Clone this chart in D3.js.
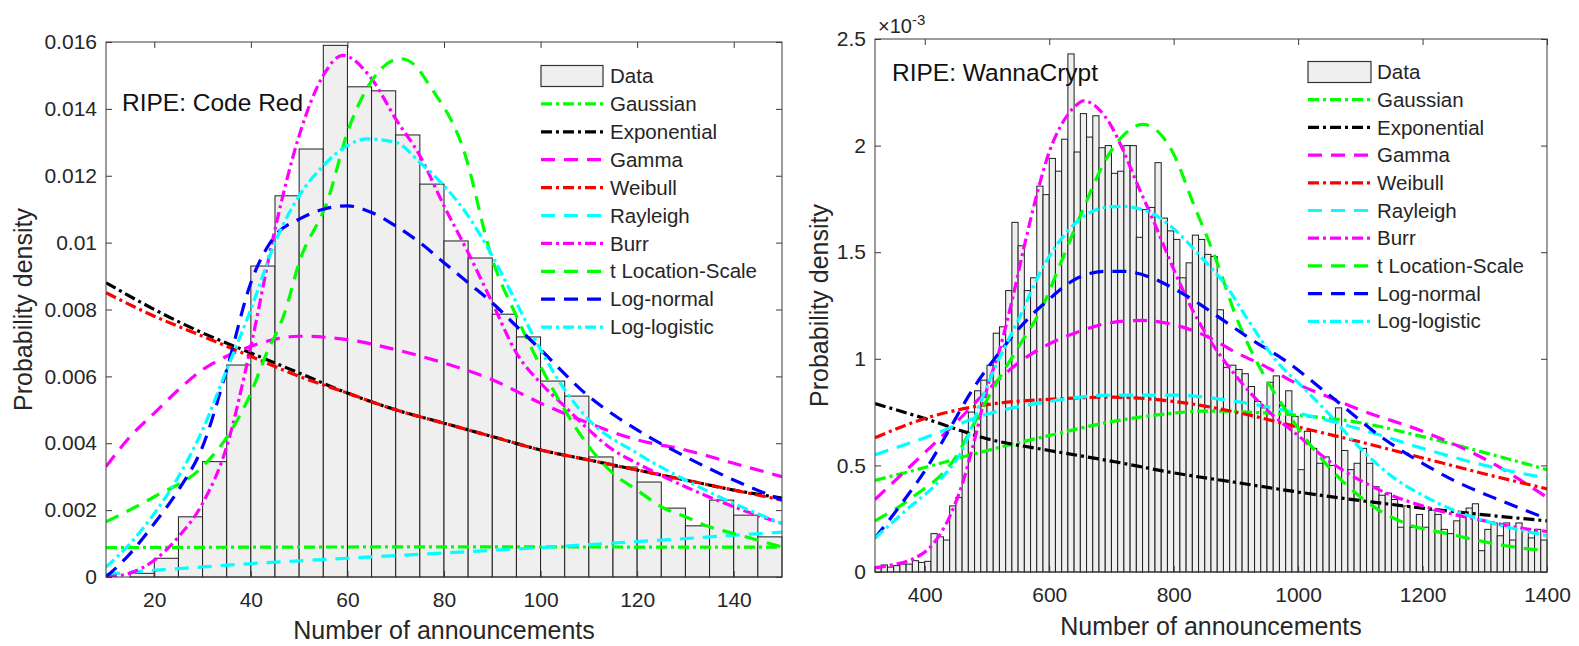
<!DOCTYPE html>
<html>
<head>
<meta charset="utf-8">
<script src="https://cdn.jsdelivr.net/npm/d3@7"></script>
<style>
body { margin: 0; background: #fff; }
text { font-family: "Liberation Sans", Arial, sans-serif; }
</style>
</head>
<body>
<script>
// ---- fit names and looks (same order in both panels) ----
const fitNames = ["Gaussian", "Exponential", "Gamma", "Weibull", "Rayleigh", "Burr", "t Location-Scale", "Log-normal", "Log-logistic"];
const fitColors = ["#00ff00", "#000000", "#ff00ff", "#ff0000", "#00ffff", "#ff00ff", "#00ff00", "#0000ff", "#00ffff"];
const fitDash = ["dashdot", "dashdot", "dashed", "dashdot", "dashed", "dashdot", "dashed", "dashed", "dashdot"];

// ---- RIPE: Code Red ----
const crBinStart = [15, 20, 25, 30, 35, 40, 45, 50, 55, 60, 65, 70, 75, 80, 85, 90, 95, 100, 105, 110, 115, 120, 125, 130, 135, 140, 145];
const crBinDensity = [0.00011, 0.00056, 0.0018, 0.00345, 0.00634, 0.0093, 0.0114, 0.0128, 0.0159, 0.01466, 0.01454, 0.01322, 0.01175, 0.01005, 0.00954, 0.00786, 0.00718, 0.00586, 0.00541, 0.00359, 0.00329, 0.00284, 0.00206, 0.00153, 0.0023, 0.00185, 0.0012];
const crBinWidth = 5;
const crXTicks = [20, 40, 60, 80, 100, 120, 140];
const crYTicks = [0, 0.002, 0.004, 0.006, 0.008, 0.01, 0.012, 0.014, 0.016];

const crGaussian = [[10, 0.00088], [80, 0.0009], [150, 0.00089]];
const crExponential = [[10, 0.0088], [20, 0.008], [30, 0.0073], [40, 0.0067], [50, 0.0061], [60, 0.0055], [70, 0.005], [80, 0.0046], [90, 0.0042], [100, 0.0038], [110, 0.0035], [120, 0.0032], [130, 0.0029], [140, 0.0026], [150, 0.00236]];
const crGamma = [[10, 0.0033], [15, 0.0042], [20, 0.0049], [25, 0.0056], [30, 0.0062], [35, 0.0066], [40, 0.0069], [50, 0.0072], [60, 0.0071], [70, 0.0068], [80, 0.0064], [90, 0.0059], [100, 0.0052], [110, 0.0046], [120, 0.0041], [130, 0.0038], [140, 0.0034], [150, 0.003]];
const crWeibull = [[10, 0.0085], [20, 0.0078], [30, 0.0072], [40, 0.0066], [50, 0.006], [60, 0.0055], [70, 0.005], [80, 0.0046], [90, 0.0042], [100, 0.0038], [110, 0.0035], [120, 0.0032], [130, 0.0029], [140, 0.0026], [150, 0.0023]];
const crRayleigh = [[10, 0.00008], [20, 0.0002], [30, 0.0003], [40, 0.0004], [50, 0.00048], [60, 0.00056], [70, 0.00064], [80, 0.00072], [90, 0.0008], [100, 0.00088], [110, 0.00097], [120, 0.00106], [130, 0.00115], [140, 0.00125], [150, 0.00134]];
const crBurr = [[10, 0], [15, 0.00012], [20, 0.0005], [25, 0.0012], [30, 0.0022], [35, 0.0039], [40, 0.0069], [45, 0.0104], [50, 0.0132], [55, 0.015], [59, 0.0156], [65, 0.0149], [70, 0.0137], [75, 0.0126], [80, 0.0111], [85, 0.0097], [90, 0.0082], [95, 0.0067], [100, 0.0058], [105, 0.0051], [110, 0.0044], [115, 0.0038], [120, 0.0034], [130, 0.0027], [140, 0.0021], [150, 0.0016]];
const crTLocScale = [[10, 0.00165], [20, 0.0024], [30, 0.0033], [36, 0.0044], [40, 0.0055], [43, 0.0066], [47, 0.0079], [50, 0.0094], [56, 0.0113], [60, 0.0133], [64, 0.0146], [67, 0.0152], [71, 0.0155], [74, 0.0153], [77, 0.0147], [84, 0.0128], [90, 0.0095], [95, 0.0078], [100, 0.0063], [105, 0.005], [110, 0.0039], [115, 0.0031], [120, 0.0026], [125, 0.0021], [130, 0.0018], [135, 0.0015], [140, 0.0013], [150, 0.0009]];
const crLogNormal = [[10, 0], [15, 0.0007], [20, 0.0016], [25, 0.0026], [30, 0.0039], [35, 0.0062], [40, 0.0088], [45, 0.0102], [50, 0.0107], [55, 0.011], [60, 0.0111], [65, 0.0109], [70, 0.0105], [75, 0.01], [80, 0.0094], [85, 0.0088], [90, 0.0082], [95, 0.0075], [100, 0.0068], [110, 0.0054], [120, 0.0044], [130, 0.0036], [140, 0.0029], [150, 0.0023]];
const crLogLogistic = [[10, 0.0003], [15, 0.001], [20, 0.0019], [25, 0.003], [30, 0.0044], [35, 0.0062], [40, 0.008], [45, 0.01], [50, 0.0114], [55, 0.0123], [60, 0.0129], [64, 0.0131], [70, 0.013], [75, 0.0124], [80, 0.0117], [85, 0.0108], [90, 0.0096], [95, 0.0082], [100, 0.0068], [105, 0.0056], [110, 0.0047], [120, 0.0037], [130, 0.0029], [140, 0.0022], [150, 0.0016]];

// ---- RIPE: WannaCrypt (density in units of 1e-3) ----
const wcBinStart = [320, 330, 340, 350, 360, 370, 380, 390, 400, 410, 420, 430, 440, 450, 460, 470, 480, 490, 500, 510, 520, 530, 540, 550, 560, 570, 580, 590, 600, 610, 620, 630, 640, 650, 660, 670, 680, 690, 700, 710, 720, 730, 740, 750, 760, 770, 780, 790, 800, 810, 820, 830, 840, 850, 860, 870, 880, 890, 900, 910, 920, 930, 940, 950, 960, 970, 980, 990, 1000, 1010, 1020, 1030, 1040, 1050, 1060, 1070, 1080, 1090, 1100, 1110, 1120, 1130, 1140, 1150, 1160, 1170, 1180, 1190, 1200, 1210, 1220, 1230, 1240, 1250, 1260, 1270, 1280, 1290, 1300, 1310, 1320, 1330, 1340, 1350, 1360, 1370, 1380, 1390];
const wcBinDensity = [0.025, 0.033, 0.023, 0.03, 0.037, 0.037, 0.053, 0.045, 0.05, 0.18, 0.165, 0.15, 0.31, 0.35, 0.66, 0.75, 0.85, 0.9, 0.97, 1.12, 1.15, 1.32, 1.64, 1.53, 1.32, 1.38, 1.81, 1.77, 1.94, 1.88, 2.03, 2.43, 1.97, 2.15, 2.04, 2.14, 1.99, 2.0, 1.87, 1.88, 2.0, 2.0, 1.57, 1.7, 1.71, 1.92, 1.66, 1.6, 1.56, 1.38, 1.45, 1.58, 1.56, 1.49, 1.48, 1.23, 0.96, 0.97, 0.95, 0.93, 0.87, 0.8, 0.77, 0.89, 0.92, 0.78, 0.85, 0.73, 0.48, 0.66, 0.58, 0.51, 0.54, 0.5, 0.77, 0.57, 0.48, 0.51, 0.58, 0.51, 0.4, 0.36, 0.37, 0.34, 0.21, 0.31, 0.21, 0.27, 0.21, 0.29, 0.27, 0.2, 0.18, 0.24, 0.28, 0.3, 0.32, 0.1, 0.2, 0.23, 0.17, 0.23, 0.15, 0.23, 0.2, 0.16, 0.2, 0.15];
const wcBinWidth = 10;
const wcXTicks = [400, 600, 800, 1000, 1200, 1400];
const wcYTicks = [0, 0.5, 1, 1.5, 2, 2.5];

const wcGaussian = [[320, 0.43], [400, 0.49], [500, 0.57], [600, 0.64], [700, 0.705], [800, 0.745], [850, 0.755], [900, 0.752], [1000, 0.735], [1100, 0.7], [1200, 0.635], [1300, 0.56], [1400, 0.48]];
const wcExponential = [[320, 0.79], [400, 0.72], [500, 0.625], [600, 0.57], [700, 0.52], [800, 0.465], [900, 0.42], [1000, 0.375], [1100, 0.335], [1200, 0.3], [1300, 0.268], [1400, 0.24]];
const wcGamma = [[320, 0.34], [360, 0.45], [400, 0.56], [450, 0.7], [500, 0.85], [550, 0.98], [600, 1.07], [650, 1.13], [700, 1.17], [750, 1.18], [800, 1.16], [850, 1.11], [900, 1.03], [950, 0.96], [1000, 0.88], [1050, 0.82], [1100, 0.76], [1200, 0.66], [1300, 0.53], [1400, 0.35]];
const wcWeibull = [[320, 0.63], [400, 0.72], [500, 0.785], [600, 0.81], [700, 0.82], [800, 0.8], [900, 0.75], [1000, 0.68], [1100, 0.61], [1200, 0.535], [1300, 0.46], [1400, 0.39]];
const wcRayleigh = [[320, 0.55], [400, 0.63], [500, 0.74], [600, 0.8], [700, 0.83], [800, 0.83], [900, 0.8], [1000, 0.745], [1100, 0.67], [1200, 0.58], [1300, 0.5], [1400, 0.44]];
const wcBurr = [[320, 0.02], [350, 0.035], [380, 0.06], [410, 0.12], [440, 0.26], [460, 0.41], [480, 0.62], [500, 0.86], [520, 1.04], [540, 1.27], [560, 1.53], [580, 1.77], [600, 1.97], [620, 2.1], [640, 2.18], [655, 2.21], [680, 2.17], [700, 2.09], [720, 1.97], [740, 1.83], [770, 1.63], [800, 1.42], [830, 1.23], [860, 1.08], [900, 0.92], [950, 0.76], [1000, 0.64], [1050, 0.52], [1100, 0.43], [1150, 0.36], [1200, 0.31], [1250, 0.27], [1300, 0.24], [1350, 0.21], [1400, 0.19]];
const wcTLocScale = [[320, 0.24], [380, 0.35], [450, 0.54], [480, 0.7], [510, 0.86], [545, 1.03], [590, 1.25], [620, 1.46], [660, 1.74], [690, 1.93], [720, 2.05], [750, 2.1], [780, 2.05], [800, 1.96], [830, 1.74], [870, 1.45], [900, 1.2], [940, 0.95], [980, 0.76], [1035, 0.54], [1070, 0.43], [1130, 0.29], [1180, 0.22], [1240, 0.18], [1340, 0.12], [1400, 0.1]];
const wcLogNormal = [[320, 0.16], [360, 0.31], [410, 0.52], [430, 0.62], [480, 0.87], [520, 1.03], [560, 1.17], [600, 1.28], [640, 1.37], [690, 1.41], [720, 1.41], [760, 1.385], [800, 1.33], [840, 1.26], [880, 1.18], [920, 1.1], [980, 0.99], [1050, 0.83], [1140, 0.62], [1200, 0.51], [1250, 0.43], [1330, 0.33], [1400, 0.25]];
const wcLogLogistic = [[320, 0.16], [370, 0.29], [430, 0.45], [465, 0.6], [485, 0.76], [510, 0.94], [550, 1.18], [590, 1.43], [630, 1.6], [690, 1.71], [715, 1.715], [760, 1.69], [800, 1.61], [840, 1.49], [885, 1.34], [920, 1.18], [965, 0.99], [1010, 0.86], [1050, 0.74], [1100, 0.58], [1150, 0.45], [1200, 0.36], [1250, 0.29], [1300, 0.24], [1400, 0.17]];

const dashes = { dashed: "14,9", dashdot: "11,4,3,4" };
const textColor = "#262626";
const lineW = 3.2;

const svg = d3.select("body").append("svg")
  .attr("width", 1579)
  .attr("height", 646)
  .attr("xmlns", "http://www.w3.org/2000/svg");

function drawPanel(p) {
  const x = d3.scaleLinear().domain(p.xDomain).range([p.left, p.right]);
  const y = d3.scaleLinear().domain(p.yDomain).range([p.bottom, p.top]);
  const fmt = d3.format("~g");

  svg.append("clipPath").attr("id", p.id + "-clip")
    .append("rect")
    .attr("x", p.left).attr("y", p.top)
    .attr("width", p.right - p.left).attr("height", p.bottom - p.top);

  // histogram
  svg.append("g").selectAll("rect")
    .data(p.binStart)
    .join("rect")
    .attr("x", d => x(d))
    .attr("width", d => x(d + p.binWidth) - x(d))
    .attr("y", (d, i) => y(p.binDensity[i]))
    .attr("height", (d, i) => y(0) - y(p.binDensity[i]))
    .attr("fill", "#efefef")
    .attr("stroke", "#1e1e1e")
    .attr("stroke-width", 1);

  // fitted curves
  const line = d3.line().x(d => x(d[0])).y(d => y(d[1])).curve(d3.curveMonotoneX);
  svg.append("g").attr("clip-path", "url(#" + p.id + "-clip)")
    .selectAll("path")
    .data(p.fits)
    .join("path")
    .attr("d", d => line(d))
    .attr("fill", "none")
    .attr("stroke", (d, i) => fitColors[i])
    .attr("stroke-width", lineW)
    .attr("stroke-dasharray", (d, i) => dashes[fitDash[i]]);

  // axes, ticks inward on all four sides
  const axes = [
    { a: d3.axisBottom(x).tickValues(p.xTicks).tickFormat(fmt).tickPadding(15), t: "translate(0," + p.bottom + ")" },
    { a: d3.axisTop(x).tickValues(p.xTicks).tickFormat(""), t: "translate(0," + p.top + ")" },
    { a: d3.axisLeft(y).tickValues(p.yTicks).tickFormat(fmt).tickPadding(9), t: "translate(" + p.left + ",0)" },
    { a: d3.axisRight(y).tickValues(p.yTicks).tickFormat(""), t: "translate(" + p.right + ",0)" }
  ];
  axes.forEach(ax => {
    const g = svg.append("g")
      .attr("transform", ax.t)
      .attr("color", "#3a3a3a")
      .call(ax.a.tickSizeInner(-6).tickSizeOuter(0));
    g.select(".domain").remove();
    g.selectAll("text")
      .attr("font-size", 21)
      .attr("font-family", "'Liberation Sans', Arial, sans-serif")
      .attr("fill", textColor);
  });

  svg.append("rect")
    .attr("x", p.left).attr("y", p.top)
    .attr("width", p.right - p.left).attr("height", p.bottom - p.top)
    .attr("fill", "none").attr("stroke", "#3a3a3a").attr("stroke-width", 1);

  // axis labels
  svg.append("text")
    .attr("x", (p.left + p.right) / 2).attr("y", p.xLabelY)
    .attr("text-anchor", "middle").attr("font-size", 25).attr("fill", textColor)
    .text("Number of announcements");
  svg.append("text")
    .attr("transform", "translate(" + p.yLabelX + "," + (p.top + p.bottom) / 2 + ") rotate(-90)")
    .attr("text-anchor", "middle").attr("font-size", 25).attr("fill", textColor)
    .text("Probability density");

  // panel title
  svg.append("text")
    .attr("x", p.titleX).attr("y", p.titleY)
    .attr("font-size", 24.5).attr("fill", "#111")
    .text(p.title);

  // legend
  const lg = svg.append("g");
  lg.append("rect")
    .attr("x", p.legX0).attr("y", p.legY - 10.5)
    .attr("width", p.legX1 - p.legX0).attr("height", 21)
    .attr("fill", "#efefef").attr("stroke", "#333").attr("stroke-width", 1.2);
  lg.append("text")
    .attr("x", p.legTextX).attr("y", p.legY).attr("dy", "0.35em")
    .attr("font-size", 20.5).attr("fill", textColor).text("Data");
  fitNames.forEach((name, i) => {
    const ry = p.legY + (i + 1) * p.legStep;
    lg.append("line")
      .attr("x1", p.legX0).attr("x2", p.legX1)
      .attr("y1", ry).attr("y2", ry)
      .attr("stroke", fitColors[i]).attr("stroke-width", lineW)
      .attr("stroke-dasharray", dashes[fitDash[i]]);
    lg.append("text")
      .attr("x", p.legTextX).attr("y", ry).attr("dy", "0.35em")
      .attr("font-size", 20.5).attr("fill", textColor).text(name);
  });
}

drawPanel({
  id: "cr", left: 106, right: 782, top: 42, bottom: 577,
  xDomain: [10, 150], yDomain: [0, 0.016],
  xTicks: crXTicks, yTicks: crYTicks,
  binStart: crBinStart, binDensity: crBinDensity, binWidth: crBinWidth,
  fits: [crGaussian, crExponential, crGamma, crWeibull, crRayleigh, crBurr, crTLocScale, crLogNormal, crLogLogistic],
  xLabelY: 639, yLabelX: 32,
  title: "RIPE: Code Red", titleX: 122, titleY: 111,
  legX0: 541, legX1: 603, legTextX: 610, legY: 76, legStep: 27.9
});

drawPanel({
  id: "wc", left: 875, right: 1547, top: 39, bottom: 572,
  xDomain: [320, 1400], yDomain: [0, 2.5],
  xTicks: wcXTicks, yTicks: wcYTicks,
  binStart: wcBinStart, binDensity: wcBinDensity, binWidth: wcBinWidth,
  fits: [wcGaussian, wcExponential, wcGamma, wcWeibull, wcRayleigh, wcBurr, wcTLocScale, wcLogNormal, wcLogLogistic],
  xLabelY: 635, yLabelX: 828,
  title: "RIPE: WannaCrypt", titleX: 892, titleY: 81,
  legX0: 1308, legX1: 1371, legTextX: 1377, legY: 72, legStep: 27.7
});

// exponent label of the right y axis
const expo = svg.append("text").attr("x", 878).attr("y", 33).attr("fill", textColor);
expo.append("tspan").attr("font-size", 20).text("\u00d710");
expo.append("tspan").attr("font-size", 15).attr("dy", -8).text("-3");
</script>
</body>
</html>
